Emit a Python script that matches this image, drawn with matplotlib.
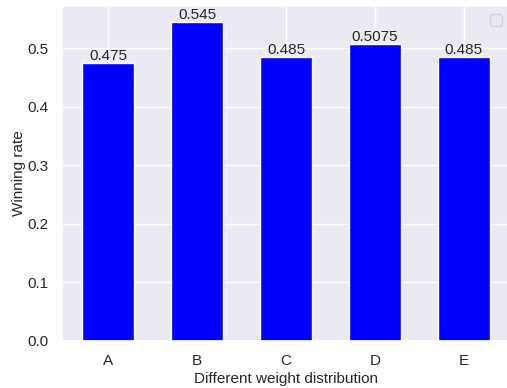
import matplotlib
matplotlib.use("Agg")
import matplotlib.pyplot as plt
import seaborn as sns

categories = ["A", "B", "C", "D", "E"]
win_rates = [0.475, 0.545, 0.485, 0.5075, 0.485]

sns.set_theme(style="darkgrid")
plt.rcParams["font.family"] = ["Liberation Sans", "DejaVu Sans"]

fig = plt.figure(figsize=(5.07, 3.88), dpi=100)
ax = fig.add_axes([62 / 507, (388 - 341) / 388, (510 - 62) / 507, (341 - 6) / 388])

bars = ax.bar(categories, win_rates, width=0.58, color="blue")
for b, v in zip(bars, win_rates):
    ax.text(b.get_x() + b.get_width() / 2, v, str(v), ha="center", va="bottom", fontsize=11)

ax.set_xlabel("Different weight distribution", fontsize=11, labelpad=3)
ax.set_ylabel("Winning rate", fontsize=11, labelpad=1)
ax.tick_params(labelsize=11)
ax.legend()

fig.savefig("out.png", dpi=100)
